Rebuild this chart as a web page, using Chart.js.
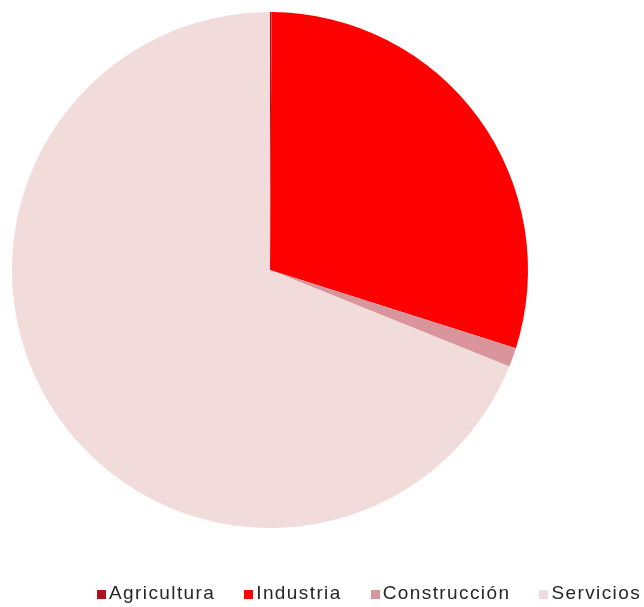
<!DOCTYPE html>
<html>
<head>
<meta charset="utf-8">
<script src="https://cdn.jsdelivr.net/npm/chart.js@4.4.0/dist/chart.umd.min.js"></script>
<style>
  html, body { margin: 0; padding: 0; background: #fff; }
  #wrap { position: relative; width: 644px; height: 607px; overflow: hidden; }
  #legend {
    position: absolute; left: 97px; top: 582px;
    font-family: "Liberation Sans", Arial, sans-serif; font-size: 19px;
    line-height: 22px; letter-spacing: 1.4px; color: #262626; white-space: nowrap;
  }
  #legend span.item { display: inline-block; margin-right: 29px; }
  #legend span.box { display: inline-block; width: 9px; height: 9px; margin-right: 3px; vertical-align: 0px; }
</style>
</head>
<body>
<div id="wrap">
  <canvas id="js-chart-sectores" width="644" height="607"></canvas>
  <div id="legend"></div>
</div>
<script>
// Chart data
const sectorLabels = ["Agricultura", "Industria", "Construcción", "Servicios"];
const sectorValues = [0.1, 29.8, 1.2, 68.9];
const sectorColors = ["#b0121b", "#ff0000", "#d9959b", "#f2dcdb"];

const chartCon = document.getElementById("js-chart-sectores");

new Chart(chartCon, {
  type: "pie",
  data: {
    labels: sectorLabels,
    datasets: [
      {
        data: sectorValues,
        backgroundColor: sectorColors,
        borderWidth: 0,
      },
    ],
  },
  options: {
    responsive: false,
    animation: false,
    layout: {
      padding: { left: 12, top: 12, right: 116, bottom: 79 },
    },
    plugins: {
      legend: { display: false },
      tooltip: { enabled: false },
    },
  },
});

// Legend built from the same arrays
const legendCon = document.getElementById("legend");
sectorLabels.forEach((label, i) => {
  const item = document.createElement("span");
  item.className = "item";
  const box = document.createElement("span");
  box.className = "box";
  box.style.background = sectorColors[i];
  item.appendChild(box);
  item.appendChild(document.createTextNode(label));
  legendCon.appendChild(item);
});
</script>
</body>
</html>
